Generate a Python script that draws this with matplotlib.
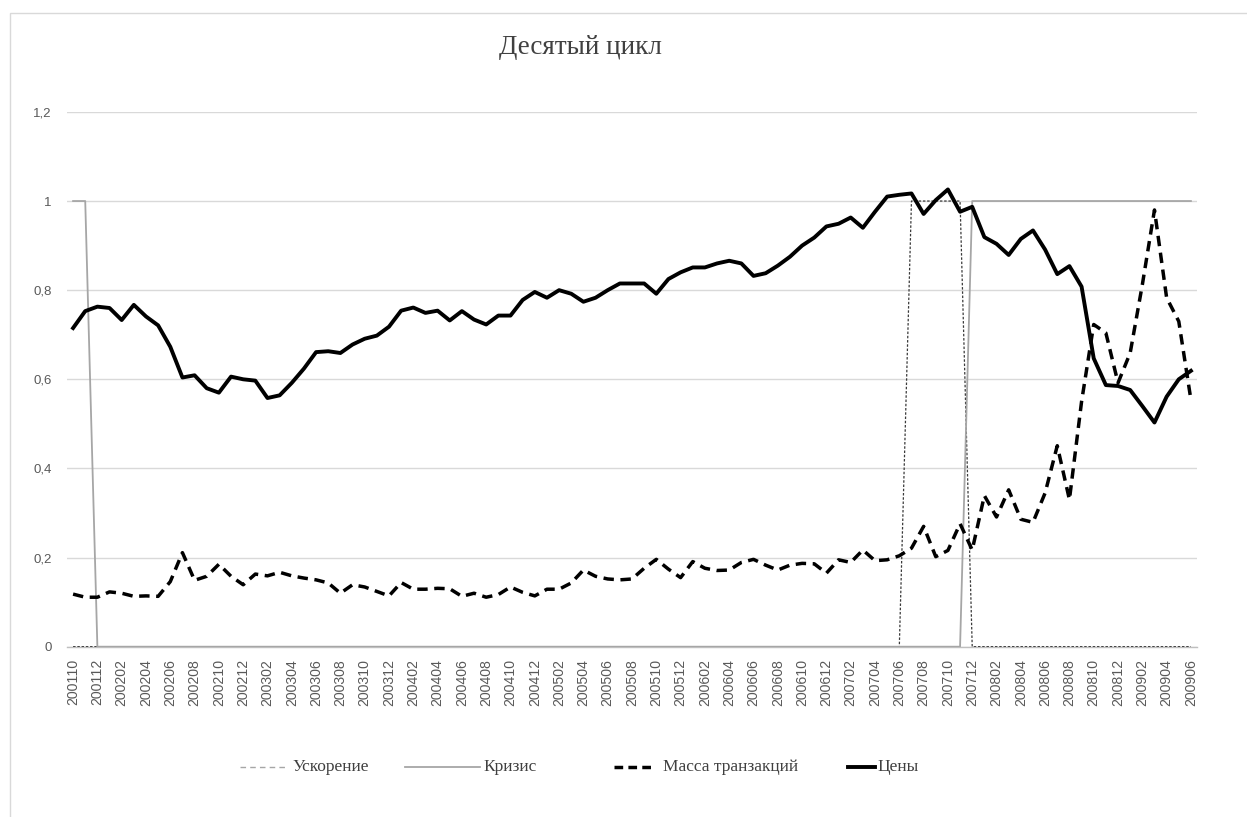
import matplotlib
matplotlib.use("Agg")
import matplotlib.pyplot as plt
from matplotlib.lines import Line2D
from matplotlib.patches import Rectangle
import numpy as np

# Monthly periods, October 2001 - June 2009
periods = []
y, m = 2001, 10
while (y, m) <= (2009, 6):
    periods.append(f"{y}{m:02d}")
    m += 1
    if m > 12:
        y, m = y + 1, 1

acceleration = [0] * 69 + [1] * 5 + [0] * 19
crisis = [1] * 2 + [0] * 72 + [1] * 19

transactions = [
    0.118, 0.111, 0.111, 0.123, 0.120, 0.113, 0.114, 0.113, 0.146, 0.211,
    0.149, 0.158, 0.185, 0.158, 0.139, 0.163, 0.159, 0.167, 0.159, 0.154,
    0.150, 0.143, 0.120, 0.139, 0.134, 0.124, 0.114, 0.144, 0.129, 0.129,
    0.131, 0.130, 0.113, 0.120, 0.111, 0.117, 0.134, 0.122, 0.114, 0.129,
    0.129, 0.143, 0.172, 0.158, 0.152, 0.150, 0.152, 0.176, 0.196, 0.174,
    0.155, 0.191, 0.176, 0.171, 0.172, 0.189, 0.196, 0.183, 0.172, 0.183,
    0.187, 0.186, 0.165, 0.195, 0.189, 0.217, 0.193, 0.195, 0.204, 0.221,
    0.270, 0.202, 0.216, 0.276, 0.217, 0.339, 0.291, 0.352, 0.286, 0.279,
    0.345, 0.451, 0.330, 0.550, 0.723, 0.704, 0.592, 0.659, 0.812, 0.980,
    0.783, 0.730, 0.554,
]

prices = [
    0.715, 0.753, 0.763, 0.760, 0.733, 0.767, 0.741, 0.721, 0.673, 0.604,
    0.609, 0.580, 0.570, 0.606, 0.600, 0.597, 0.558, 0.564, 0.592, 0.624,
    0.661, 0.663, 0.659, 0.678, 0.691, 0.698, 0.718, 0.754, 0.761, 0.749,
    0.754, 0.732, 0.753, 0.734, 0.723, 0.743, 0.743, 0.778, 0.796, 0.783,
    0.800, 0.792, 0.774, 0.783, 0.800, 0.815, 0.815, 0.815, 0.792, 0.825,
    0.840, 0.851, 0.851, 0.860, 0.866, 0.860, 0.832, 0.838, 0.855, 0.875,
    0.900, 0.918, 0.943, 0.949, 0.963, 0.940, 0.976, 1.010, 1.014, 1.017,
    0.971, 1.002, 1.026, 0.976, 0.987, 0.919, 0.904, 0.879, 0.915, 0.934,
    0.891, 0.836, 0.854, 0.808, 0.647, 0.587, 0.585, 0.576, 0.540, 0.503,
    0.561, 0.600, 0.619,
]

labels = ["Ускорение", "Кризис", "Масса транзакций", "Цены"]
y_ticks = [0, 0.2, 0.4, 0.6, 0.8, 1.0, 1.2]

TEXT = "#595959"
DARK = "#404040"
GRID = "#d9d9d9"
SERIF = ["Liberation Serif", "DejaVu Serif"]
SANS = ["Liberation Sans", "DejaVu Sans"]

W, H = 1247, 817
fig = plt.figure(figsize=(W / 100, H / 100), dpi=100)
fig.patch.set_facecolor("white")

# chart-area frame
fig.add_artist(Rectangle((10 / W, -0.05), 1.2, 1 - 13 / H + 0.05,
                         transform=fig.transFigure, fill=False,
                         edgecolor=GRID, linewidth=1.0))

ax = fig.add_axes([67 / W, 1 - 646.7 / H, (1197 - 67) / W, (646.7 - 111.9) / H])
x = np.arange(len(periods))

acc_style = dict(color="#3a3a3a", linewidth=0.9, dashes=(2.0, 1.4))
cri_style = dict(color="#a6a6a6", linewidth=1.3)
tr_style = dict(color="black", linewidth=2.5, dashes=(3.0, 1.9))
pr_style = dict(color="black", linewidth=2.8)

ax.plot(x, acceleration, zorder=3, **acc_style)
ax.plot(x, crisis, zorder=4, **cri_style)
ax.plot(x, transactions, zorder=5, solid_joinstyle="round", **tr_style)
ax.plot(x, prices, zorder=6, solid_joinstyle="round", **pr_style)

ax.set_xlim(-0.5, len(periods) - 0.5)
ax.set_ylim(0, 1.2)
ax.set_yticks(y_ticks)
ax.set_yticklabels([f"{v:g}".replace(".", ",") for v in y_ticks],
                   family=SANS, fontsize=9.5, color=TEXT)
ax.set_xticks(x[::2])
ax.set_xticklabels(periods[::2], rotation=90, family=SANS, fontsize=10.2,
                   color=TEXT)
ax.tick_params(axis="y", length=0, pad=11)
ax.tick_params(axis="x", length=0, pad=9)
ax.grid(axis="y", color=GRID, linewidth=1.0, zorder=0)
ax.set_axisbelow(True)
for side in ("left", "right", "top"):
    ax.spines[side].set_visible(False)
ax.spines["bottom"].set_color("#bfbfbf")
ax.spines["bottom"].set_linewidth(1.0)
ax.spines["bottom"].set_zorder(2)

fig.text(580 / W, 1 - 47 / H, "Десятый цикл", family=SERIF, fontsize=19.5,
         color=DARK, ha="center", va="center")

# legend row
ly = 1 - 767 / H
legend_items = [
    ((240, 285), 292, dict(color="#a6a6a6", linewidth=1.0, dashes=(4, 3)), labels[0]),
    ((405, 480), 483, dict(color="#a6a6a6", linewidth=1.3), labels[1]),
    ((614, 655), 663, dict(color="black", linewidth=2.5, dashes=(2.5, 1.5)), labels[2]),
    ((848, 875), 877, dict(color="black", linewidth=2.8), labels[3]),
]
for (x0, x1), tx, style, text in legend_items:
    fig.add_artist(Line2D([x0 / W, x1 / W], [ly, ly], transform=fig.transFigure, **style))
    fig.text(tx / W, ly, text, family=SERIF, fontsize=12.5, color=DARK,
             ha="left", va="center")

fig.savefig("out.png", dpi=100)
